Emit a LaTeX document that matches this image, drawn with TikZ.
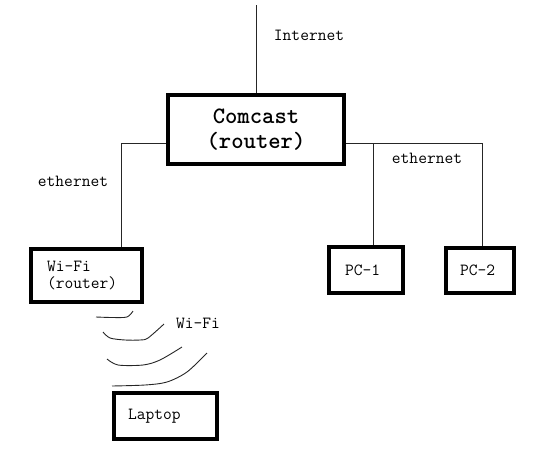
\documentclass[tikz,border=0pt]{standalone}
\usepackage{fontspec}
\tikzset{
  box/.style={draw=black, line width=4pt, fill=white},
  smallbox/.style={box, align=left, font=\ttfamily\fontsize{17}{17}\selectfont, inner ysep=0pt},
  bigbox/.style={box, align=center, font=\ttfamily\bfseries\fontsize{23.5}{25}\selectfont,
    minimum width=176pt, minimum height=69pt, inner sep=0pt},
  lbl/.style={font=\ttfamily\fontsize{17}{17}\selectfont, inner sep=0pt},
  wire/.style={draw=black!85, line width=1pt},
  wave/.style={draw=black!85, line width=0.9pt}
}
\begin{document}
\begin{tikzpicture}[x=1pt, y=-1pt]
\useasboundingbox (0,0) rectangle (540,463);
% boxes
\node[bigbox] (comcast) at (256,129.5) {Comcast\\(router)};
\node[smallbox, text width=79pt, inner xsep=16pt, minimum height=53pt] (wifi) at (86.5,275.5) {Wi-Fi\\(router)};
\node[smallbox, text width=42pt, inner xsep=16pt, minimum height=46pt] (pc1) at (366,270) {PC-1};
\node[smallbox, text width=40pt, inner xsep=14pt, minimum height=45pt] (pc2) at (480,270.5) {PC-2};
\node[smallbox, text width=75pt, inner xsep=14pt, minimum height=46pt] (laptop) at (165.5,416) {Laptop};
% labels
\node[lbl] (linternet) at (309,35) {Internet};
\node[lbl] (leth) at (73,181) {ethernet};
\node[lbl] (reth) at (427,158) {ethernet};
\node[lbl] (lwifi) at (198,323) {Wi-Fi};
% connectors
\coordinate (top) at (256,5);
\coordinate (jl) at (121,143);
\coordinate (jr1) at (373,143);
\coordinate (jr2) at (482,143);
\draw[wire] (top) -- (comcast.north);
\draw[wire] (comcast.west |- jl) -- (jl) -- (jl |- wifi.north);
\draw[wire] (comcast.east |- jr1) -- (jr2) -- (jr2 |- pc2.north);
\draw[wire] (jr1) -- (jr1 |- pc1.north);
% wifi waves
\draw[wave] plot[smooth, tension=0.5] coordinates {(96,317) (112,317.5) (127,317) (133,311)};
\draw[wave] plot[smooth, tension=0.5] coordinates {(103,332) (110,338) (125,340) (140,340) (148,338) (164,324)};
\draw[wave] plot[smooth, tension=0.5] coordinates {(107,359) (118,365) (143,365) (160,360) (182,347)};
\draw[wave] plot[smooth, tension=0.5] coordinates {(112,386) (145,385) (167,382) (187,372) (207,353)};
\end{tikzpicture}
\end{document}
